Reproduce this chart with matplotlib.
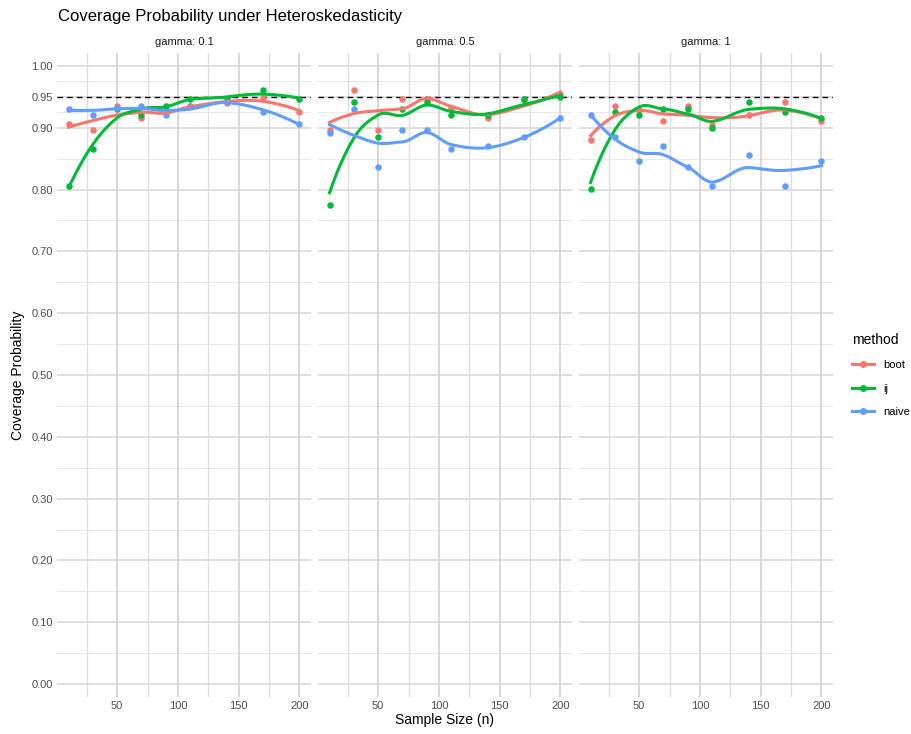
import numpy as np
import matplotlib
matplotlib.use("Agg")
import matplotlib.pyplot as plt
from matplotlib.lines import Line2D

# simulation results: coverage of the 95% interval by method and sample size
n_sizes = [10, 30, 50, 70, 90, 110, 140, 170, 200]
gammas = ["0.1", "0.5", "1"]
methods = ["boot", "ij", "naive"]

boot_g01 = [0.906, 0.896, 0.936, 0.916, 0.925, 0.935, 0.940, 0.948, 0.926]
ij_g01 = [0.805, 0.865, 0.930, 0.920, 0.936, 0.946, 0.946, 0.961, 0.946]
naive_g01 = [0.931, 0.921, 0.932, 0.936, 0.921, 0.935, 0.942, 0.926, 0.906]

boot_g05 = [0.896, 0.961, 0.896, 0.946, 0.947, 0.932, 0.916, 0.945, 0.955]
ij_g05 = [0.775, 0.941, 0.885, 0.931, 0.941, 0.920, 0.921, 0.946, 0.950]
naive_g05 = [0.891, 0.931, 0.836, 0.896, 0.896, 0.865, 0.871, 0.885, 0.916]

boot_g1 = [0.881, 0.935, 0.928, 0.911, 0.935, 0.905, 0.920, 0.941, 0.911]
ij_g1 = [0.801, 0.926, 0.920, 0.931, 0.931, 0.900, 0.941, 0.926, 0.916]
naive_g1 = [0.921, 0.885, 0.846, 0.871, 0.836, 0.806, 0.856, 0.806, 0.846]

coverage = {
    "0.1": {"boot": boot_g01, "ij": ij_g01, "naive": naive_g01},
    "0.5": {"boot": boot_g05, "ij": ij_g05, "naive": naive_g05},
    "1": {"boot": boot_g1, "ij": ij_g1, "naive": naive_g1},
}
nominal = 0.95

colors = {"boot": "#F8766D", "ij": "#00BA38", "naive": "#619CFF"}
y_breaks = [0.0, 0.1, 0.2, 0.3, 0.4, 0.5, 0.6, 0.7, 0.8, 0.9, 0.95, 1.0]
x_breaks = [50, 100, 150, 200]


def local_fit(x, y, x0, span=0.75):
    # local quadratic with tricube weights; returns value and slope at x0
    q = int(np.floor(len(x) * span))
    d = np.abs(x - x0)
    h = np.sort(d)[q - 1]
    w = np.clip(1 - (d / h) ** 3, 0, None) ** 3
    X = np.column_stack([np.ones_like(x), x - x0, (x - x0) ** 2])
    A = X.T @ (w[:, None] * X)
    b = X.T @ (w * y)
    beta = np.linalg.solve(A, b)
    return beta[0], beta[1]


def kd_vertices(xs_sorted, fc=1):
    # 1-d cell splitting at the median point, as loess does before interpolating
    lo, hi = xs_sorted[0], xs_sorted[-1]
    mu = 0.005 * (hi - lo)
    verts = {lo - mu, hi + mu}

    def split(pts, a, b):
        if len(pts) <= fc:
            return
        k = (len(pts) - 1) // 2
        cut = pts[k]
        if cut == a or cut == b:
            return
        verts.add(cut)
        split(pts[:k + 1], a, cut)
        split(pts[k + 1:], cut, b)

    split(list(xs_sorted), lo - mu, hi + mu)
    return np.array(sorted(verts))


def loess(x, y, xs, span=0.75):
    x = np.asarray(x, float)
    y = np.asarray(y, float)
    v = kd_vertices(np.sort(x), fc=int(np.floor(len(x) * span * 0.2)))
    fits = np.array([local_fit(x, y, t, span) for t in v])
    val, slope = fits[:, 0], fits[:, 1]
    out = []
    for t in xs:
        j = min(max(np.searchsorted(v, t) - 1, 0), len(v) - 2)
        h = v[j + 1] - v[j]
        s = (t - v[j]) / h
        h00 = 2 * s ** 3 - 3 * s ** 2 + 1
        h10 = s ** 3 - 2 * s ** 2 + s
        h01 = -2 * s ** 3 + 3 * s ** 2
        h11 = s ** 3 - s ** 2
        out.append(h00 * val[j] + h10 * h * slope[j]
                   + h01 * val[j + 1] + h11 * h * slope[j + 1])
    return np.array(out)


W, H = 912, 734
fig = plt.figure(figsize=(W / 100, H / 100), dpi=100)
plt.rcParams['font.family'] = ['Liberation Sans', 'DejaVu Sans']

lefts = [57, 318, 579]
pw = 254
top, bottom = 53, 697
xs = np.linspace(min(n_sizes), max(n_sizes), 80)

minor_y = [(a + b) / 2 for a, b in zip(y_breaks[:-1], y_breaks[1:])]
minor_x = [25, 75, 125, 175]

for i, g in enumerate(gammas):
    ax = fig.add_axes([lefts[i] / W, 1 - bottom / H, pw / W, (bottom - top) / H])
    ax.set_xlim(0.5, 209.5)
    ax.set_ylim(-0.021, 1.021)
    for s in ax.spines.values():
        s.set_visible(False)
    ax.tick_params(length=0, labelsize=8, colors="#4d4d4d", pad=3)
    ax.set_xticks(x_breaks)
    ax.set_yticks(y_breaks)
    ax.set_yticklabels(["%.2f" % v for v in y_breaks])
    if i > 0:
        ax.tick_params(labelleft=False)
    for v in minor_y:
        ax.axhline(v, color="#e8e8e8", lw=0.7, zorder=0)
    for v in y_breaks:
        ax.axhline(v, color="#dcdcdc", lw=1.3, zorder=0)
    for v in minor_x:
        ax.axvline(v, color="#dedede", lw=1.0, zorder=0)
    for v in x_breaks:
        ax.axvline(v, color="#d6d6d6", lw=1.3, zorder=0)

    ax.axhline(nominal, color="black", lw=1.0, ls=(0, (4, 3)), zorder=3)
    for m in methods:
        y = coverage[g][m]
        ax.scatter(n_sizes, y, s=22, color=colors[m], zorder=4, linewidths=0)
        ax.plot(xs, loess(n_sizes, y, xs), color=colors[m], lw=2.2, zorder=5)
    ax.set_title("gamma: " + g, fontsize=8, color="#1a1a1a", pad=6)

fig.text(58 / W, 1 - 17 / H, "Coverage Probability under Heteroskedasticity",
         fontsize=12, ha="left", va="center", color="black")
fig.text(445 / W, 1 - 720 / H, "Sample Size (n)", fontsize=10,
         ha="center", va="center")
fig.text(18 / W, 1 - 375 / H, "Coverage Probability", fontsize=10,
         rotation=90, ha="center", va="center")

handles = [Line2D([0], [0], color=colors[m], lw=2.2, marker="o", ms=4)
           for m in methods]
leg = fig.legend(handles, methods, title="method", loc="upper left",
                 bbox_to_anchor=(842 / W, 1 - 323 / H), frameon=False,
                 fontsize=8, title_fontsize=10, handlelength=2.0,
                 labelspacing=1.2, alignment="left")

fig.savefig("out.png", dpi=100)
